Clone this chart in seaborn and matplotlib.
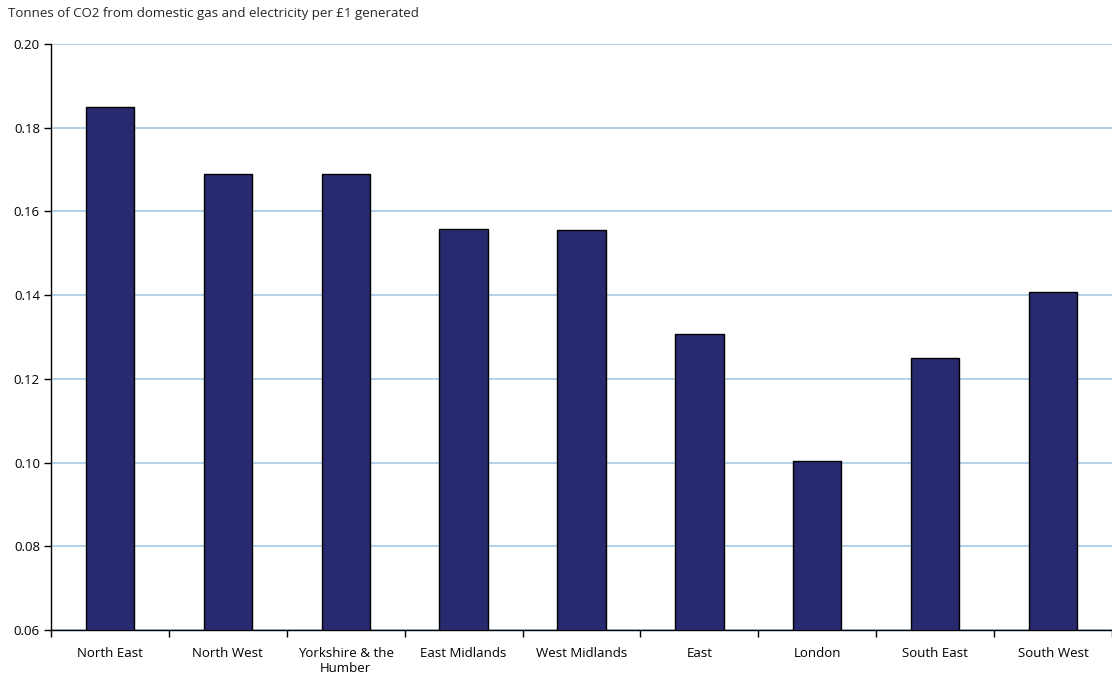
import matplotlib
matplotlib.use("Agg")
import matplotlib.pyplot as plt
import seaborn as sns
import pandas as pd
import numpy as np

regions = ["North East", "North West", "Yorkshire & the\nHumber", "East Midlands",
           "West Midlands", "East", "London", "South East", "South West"]
co2_per_pound = [0.185, 0.169, 0.169, 0.1558, 0.1556, 0.1307, 0.1004, 0.125, 0.1408]
y_ticks = [0.06, 0.08, 0.10, 0.12, 0.14, 0.16, 0.18, 0.20]

sns.set_theme(style="white")
plt.rcParams["font.family"] = ["Open Sans", "DejaVu Sans"]

df = pd.DataFrame({"region": regions, "value": co2_per_pound})

fig = plt.figure(figsize=(11.12, 6.77), dpi=100)
ax = fig.add_axes([51 / 1112, 47 / 677, 1 - 51 / 1112, (630 - 44) / 677])

sns.barplot(data=df, x="region", y="value", color="#29296F", edgecolor="black",
            linewidth=1.0, width=0.41, saturation=1, ax=ax, zorder=3)

ax.set_ylim(0.06, 0.20)
ax.set_xlim(-0.5, len(regions) - 0.5)
ax.set_yticks(y_ticks)
ax.set_yticklabels([f"{t:.2f}" for t in y_ticks], fontsize=9.5, color="black")
ax.yaxis.grid(True, color="#9DC3E6", linewidth=1.1, zorder=0)
ax.set_axisbelow(True)

ax.tick_params(axis="x", which="major", length=0, labelsize=9.5, pad=12, colors="black")
ax.set_xticks(np.arange(-0.5, len(regions), 1.0), minor=True)
ax.tick_params(axis="x", which="minor", bottom=True, length=5, width=1,
               color="black", direction="out")
ax.tick_params(axis="y", which="major", left=True, length=5, width=1,
               color="black", direction="out", pad=3)

for side in ["top", "right"]:
    ax.spines[side].set_visible(False)
for side in ["left", "bottom"]:
    ax.spines[side].set_color("black")
    ax.spines[side].set_linewidth(1.0)

ax.set_xlabel("")
ax.set_ylabel("")
fig.text(8 / 1112, 1 - 13 / 677, "Tonnes of CO2 from domestic gas and electricity per £1 generated",
         fontsize=9.5, va="center", ha="left")

fig.savefig("out.png", dpi=100)
